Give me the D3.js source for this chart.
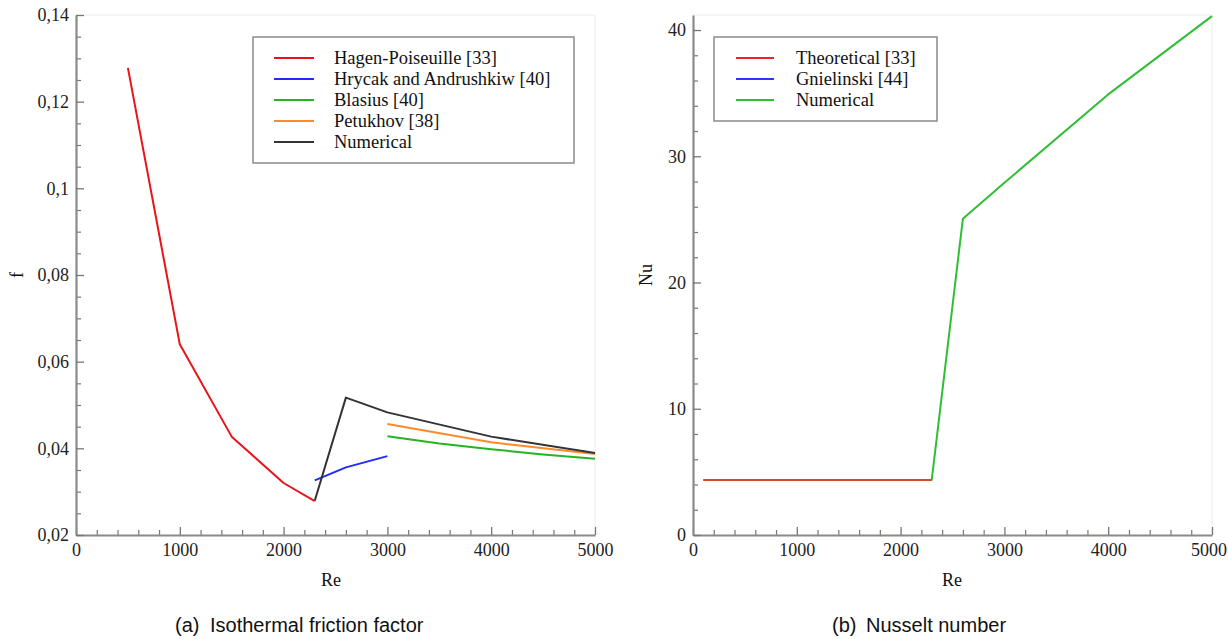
<!DOCTYPE html>
<html><head><meta charset="utf-8">
<script src="https://cdn.jsdelivr.net/npm/d3@7"></script>
<style>
html,body{margin:0;padding:0;background:#fff;}
svg{display:block;}
</style></head>
<body>
<svg id="c" width="1228" height="639"></svg>
<script>
// ---------- data: (a) isothermal friction factor ----------
const hagenRe = [500, 1000, 1500, 2000, 2300];
const hagenF  = [0.1278, 0.0640, 0.0427, 0.0320, 0.0278];
const hrycakRe = [2300, 2600, 3000];
const hrycakF  = [0.0326, 0.0356, 0.0382];
const blasiusRe = [3000, 3500, 4000, 4500, 5000];
const blasiusF  = [0.0428, 0.0411, 0.0398, 0.0386, 0.0376];
const petukhovRe = [3000, 4000, 5000];
const petukhovF  = [0.0456, 0.0414, 0.0387];
const numFRe = [2300, 2600, 3000, 4000, 5000];
const numF   = [0.0279, 0.0517, 0.0483, 0.0427, 0.0389];
const legendA = ["Hagen-Poiseuille [33]", "Hrycak and Andrushkiw [40]", "Blasius [40]", "Petukhov [38]", "Numerical"];
const colorsA = ["#e8141c", "#1f2bff", "#25b425", "#ff8a2a", "#333333"];
const fTickVals = [0.02, 0.04, 0.06, 0.08, 0.1, 0.12, 0.14];
const fTickLabels = ["0,02", "0,04", "0,06", "0,08", "0,1", "0,12", "0,14"];
const reTickVals = [0, 1000, 2000, 3000, 4000, 5000];
const reTickLabels = ["0", "1000", "2000", "3000", "4000", "5000"];

// ---------- data: (b) Nusselt number ----------
const theoRe = [100, 2300];
const theoNu = [4.36, 4.36];
const numNuRe = [100, 2300, 2600, 3000, 4000, 5000];
const numNu   = [4.36, 4.36, 25.05, 27.9, 34.9, 41.1];
const legendB = ["Theoretical [33]", "Gnielinski [44]", "Numerical"];
const colorsB = ["#e8262a", "#2a35ff", "#2fbf34"];
const nuTickVals = [0, 10, 20, 30, 40];
const nuTickLabels = ["0", "10", "20", "30", "40"];

const svg = d3.select("#c");
const serif = '"Liberation Serif","Times New Roman",serif';
const sans = '"Liberation Sans",Arial,Helvetica,sans-serif';

function drawAxes(x, y, yTickVals, yTickLabels, yMinor, xMinor) {
  const [x0, x1] = x.range();
  const [yb, yt] = y.range();
  svg.append("path").attr("d", `M${x0},${yt}H${x1}V${yb}`)
    .attr("fill", "none").attr("stroke", "#ececec").attr("stroke-width", 1);
  svg.append("g").attr("transform", `translate(0,${yb})`)
    .call(d3.axisBottom(x).tickValues(xMinor).tickFormat("").tickSize(-5).tickSizeOuter(0))
    .call(g => g.select(".domain").remove())
    .call(g => g.selectAll("line").attr("stroke", "#777").attr("stroke-width", 1.2));
  svg.append("g").attr("transform", `translate(${x0},0)`)
    .call(d3.axisLeft(y).tickValues(yMinor).tickFormat("").tickSize(-5).tickSizeOuter(0))
    .call(g => g.select(".domain").remove())
    .call(g => g.selectAll("line").attr("stroke", "#777").attr("stroke-width", 1.2));
  const gx = svg.append("g").attr("transform", `translate(0,${yb})`)
    .call(d3.axisBottom(x).tickValues(reTickVals).tickFormat((d, i) => reTickLabels[i]).tickSize(-8).tickSizeOuter(0).tickPadding(8));
  gx.select(".domain").attr("stroke", "#8a8a8a").attr("stroke-width", 2.2);
  gx.selectAll("line").attr("stroke", "#777").attr("stroke-width", 1.3);
  gx.selectAll("text").attr("font-family", serif).attr("font-size", 18).attr("fill", "#222").attr("dy", "0.71em")
    .each(function () {
      const bb = this.getBBox();
      const ctm = this.parentNode.getCTM();
      const right = ctm.e + bb.x + bb.width + (this.parentNode.parentNode.getCTM().e || 0);
      if (right > 1227) d3.select(this).attr("dx", 1227 - right);
    });
  const gy = svg.append("g").attr("transform", `translate(${x0},0)`)
    .call(d3.axisLeft(y).tickValues(yTickVals).tickFormat((d, i) => yTickLabels[i]).tickSize(-8).tickSizeOuter(0).tickPadding(7));
  gy.select(".domain").attr("stroke", "#8a8a8a").attr("stroke-width", 2.2);
  gy.selectAll("line").attr("stroke", "#777").attr("stroke-width", 1.3);
  gy.selectAll("text").attr("font-family", serif).attr("font-size", 18).attr("fill", "#222");
}

function series(x, y, xs, ys, color) {
  const line = d3.line().x(d => x(d[0])).y(d => y(d[1]));
  svg.append("path").datum(xs.map((v, i) => [v, ys[i]]))
    .attr("d", line).attr("fill", "none").attr("stroke", color)
    .attr("stroke-width", 2).attr("stroke-linejoin", "round");
}

function legend(bx, by, bw, bh, items, colors, lx0, lx1, tx, rowY, dy) {
  svg.append("rect").attr("x", bx).attr("y", by).attr("width", bw).attr("height", bh)
    .attr("fill", "#fff").attr("stroke", "#8a8a8a").attr("stroke-width", 1.5);
  items.forEach((t, i) => {
    const yy = rowY + i * dy;
    svg.append("line").attr("x1", lx0).attr("x2", lx1).attr("y1", yy).attr("y2", yy)
      .attr("stroke", colors[i]).attr("stroke-width", 1.8);
    svg.append("text").attr("x", tx).attr("y", yy).attr("dy", "0.33em")
      .attr("font-family", serif).attr("font-size", 18.5).attr("fill", "#111").text(t);
  });
}

// ---------- panel (a) ----------
const xA = d3.scaleLinear().domain([0, 5000]).range([76, 595]);
const yA = d3.scaleLinear().domain([0.02, 0.14]).range([535, 15]);
drawAxes(xA, yA, fTickVals, fTickLabels,
  d3.range(0.025, 0.14, 0.005).filter(v => Math.abs(v / 0.02 - Math.round(v / 0.02)) > 1e-6),
  d3.range(200, 5000, 200).filter(v => v % 1000 !== 0));
series(xA, yA, hrycakRe, hrycakF, colorsA[1]);
series(xA, yA, blasiusRe, blasiusF, colorsA[2]);
series(xA, yA, petukhovRe, petukhovF, colorsA[3]);
series(xA, yA, numFRe, numF, colorsA[4]);
series(xA, yA, hagenRe, hagenF, colorsA[0]);
legend(253, 37, 321, 126, legendA, colorsA, 274, 314, 334, 58, 21);
svg.append("text").attr("x", 331).attr("y", 586).attr("text-anchor", "middle")
  .attr("font-family", serif).attr("font-size", 18).attr("fill", "#111").text("Re");
svg.append("text").attr("transform", "translate(23,275) rotate(-90)").attr("text-anchor", "middle")
  .attr("font-family", serif).attr("font-size", 18).attr("fill", "#111").text("f");

// ---------- panel (b) ----------
const xB = d3.scaleLinear().domain([0, 5000]).range([693, 1212]);
const yB = d3.scaleLinear().domain([0, 41.19]).range([535, 15]);
drawAxes(xB, yB, nuTickVals, nuTickLabels,
  d3.range(2, 41, 2).filter(v => v % 10 !== 0),
  d3.range(200, 5000, 200).filter(v => v % 1000 !== 0));
series(xB, yB, numNuRe, numNu, colorsB[2]);
series(xB, yB, theoRe, theoNu, "#d94a2c");
legend(714, 37, 223, 84, legendB, colorsB, 736, 774, 796, 58, 21);
svg.append("text").attr("x", 952).attr("y", 586).attr("text-anchor", "middle")
  .attr("font-family", serif).attr("font-size", 18).attr("fill", "#111").text("Re");
svg.append("text").attr("transform", "translate(652,275) rotate(-90)").attr("text-anchor", "middle")
  .attr("font-family", serif).attr("font-size", 18).attr("fill", "#111").text("Nu");

// ---------- captions ----------
function caption(x1, lab, x2, txt) {
  svg.append("text").attr("x", x1).attr("y", 632).attr("font-family", sans).attr("font-size", 20).attr("fill", "#111").text(lab);
  svg.append("text").attr("x", x2).attr("y", 632).attr("font-family", sans).attr("font-size", 20).attr("fill", "#111").text(txt);
}
caption(175, "(a)", 210, "Isothermal friction factor");
caption(832, "(b)", 866, "Nusselt number");
</script>
</body></html>
